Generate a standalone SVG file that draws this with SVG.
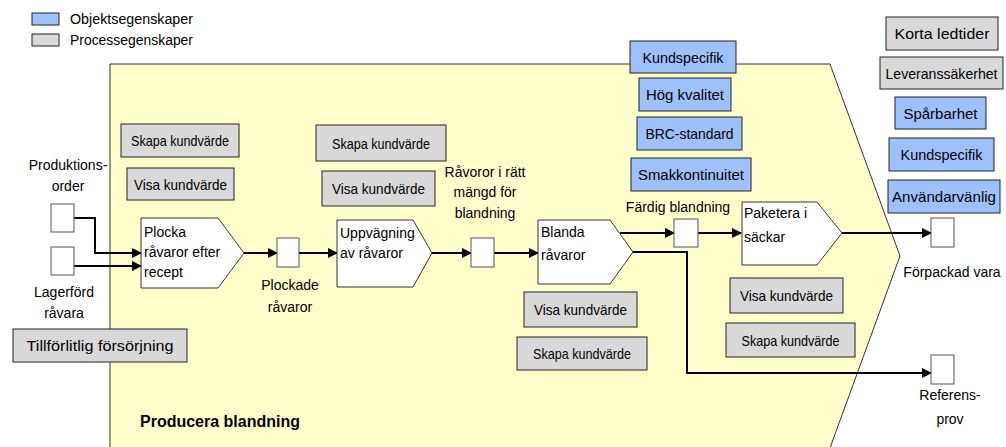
<svg xmlns="http://www.w3.org/2000/svg" width="1006" height="447" viewBox="0 0 1006 447">
  <style>
    .area { fill: #ffffcc; stroke: #333333; stroke-width: 1; }
    .proc { fill: #ffffff; stroke: #333333; stroke-width: 1; }
    .store { fill: #ffffff; stroke: #555555; stroke-width: 1; }
    .obj { fill: #9fc1fb; stroke: #222222; stroke-width: 1; }
    .prc { fill: #d9d9d9; stroke: #222222; stroke-width: 1; }
    .hand { font-family: "Liberation Sans", Arial, sans-serif; font-size: 15px; fill: #000000; text-anchor: middle; }
    .hand-l { font-family: "Liberation Sans", Arial, sans-serif; font-size: 14px; fill: #000000; }
    .lbl { font-family: "Liberation Sans", Arial, sans-serif; font-size: 14px; fill: #000000; text-anchor: middle; }
    .plbl { font-family: "Liberation Sans", Arial, sans-serif; font-size: 14px; fill: #000000; }
    .title { font-family: "Liberation Sans", Arial, sans-serif; font-size: 16px; font-weight: bold; fill: #000000; }
    .flow { fill: none; stroke: #000000; stroke-width: 2; }
  </style>
  <defs>
    <marker id="arrow" markerUnits="userSpaceOnUse" markerWidth="10" markerHeight="10" refX="9" refY="5" orient="auto">
      <path d="M0,0 L10,5 L0,10 Z" fill="#000000"/>
    </marker>
  </defs>

  <!-- legend -->
  <g id="legend">
    <rect class="obj" x="32" y="13" width="27" height="12"/>
    <text class="hand-l" x="70" y="24" textLength="123" lengthAdjust="spacingAndGlyphs">Objektsegenskaper</text>
    <rect class="prc" x="32" y="34" width="27" height="12"/>
    <text class="hand-l" x="70" y="45" textLength="123" lengthAdjust="spacingAndGlyphs">Processegenskaper</text>
  </g>

  <!-- process area -->
  <g id="area">
    <polygon class="area" points="110,64 830,64 900,256 830,448 110,448"/>
    <text class="title" x="140" y="427">Producera blandning</text>
  </g>

  <!-- connectors -->
  <g id="connectors">
    <polyline class="flow" points="74,218 95,218 95,253 141,253" marker-end="url(#arrow)"/>
    <polyline class="flow" points="74,266 141,266" marker-end="url(#arrow)"/>
    <polyline class="flow" points="244,253 277,253" marker-end="url(#arrow)"/>
    <polyline class="flow" points="299,253 337,253" marker-end="url(#arrow)"/>
    <polyline class="flow" points="432,253 471,253" marker-end="url(#arrow)"/>
    <polyline class="flow" points="494,253 538,253" marker-end="url(#arrow)"/>
    <polyline class="flow" points="620,233 674,233" marker-end="url(#arrow)"/>
    <polyline class="flow" points="698,233 741,233" marker-end="url(#arrow)"/>
    <polyline class="flow" points="633,252 687,252 687,373 931,373" marker-end="url(#arrow)"/>
    <polyline class="flow" points="842,233 931,233" marker-end="url(#arrow)"/>
  </g>

  <!-- inputs -->
  <g id="produktionsorder">
    <rect class="store" x="51" y="204" width="23" height="28"/>
    <text class="lbl" x="68" y="170">Produktions-</text>
    <text class="lbl" x="68" y="191">order</text>
  </g>
  <g id="lagerford-ravara">
    <rect class="store" x="51" y="247" width="23" height="28"/>
    <text class="lbl" x="64" y="297">Lagerförd</text>
    <text class="lbl" x="64" y="318">råvara</text>
  </g>
  <g id="tillforlitlig">
    <rect class="prc" x="13" y="329" width="174" height="33"/>
    <text class="hand" x="100" y="351" textLength="147" lengthAdjust="spacingAndGlyphs">Tillförlitlig försörjning</text>
  </g>

  <!-- step 1 -->
  <g id="plocka">
    <polygon class="proc" points="141,218 218,218 244,253 218,288 141,288"/>
    <text class="plbl" x="144" y="237">Plocka</text>
    <text class="plbl" x="144" y="257">råvaror efter</text>
    <text class="plbl" x="144" y="277">recept</text>
  </g>
  <g id="plocka-skapa">
    <rect class="prc" x="121" y="124" width="118" height="33"/>
    <text class="hand" x="180" y="146" textLength="98" lengthAdjust="spacingAndGlyphs">Skapa kundvärde</text>
  </g>
  <g id="plocka-visa">
    <rect class="prc" x="127" y="168" width="107" height="32"/>
    <text class="hand" x="180.5" y="190" textLength="93" lengthAdjust="spacingAndGlyphs">Visa kundvärde</text>
  </g>
  <g id="plockade-ravaror">
    <rect class="store" x="277" y="238" width="22" height="29"/>
    <text class="lbl" x="290" y="290">Plockade</text>
    <text class="lbl" x="290" y="312">råvaror</text>
  </g>

  <!-- step 2 -->
  <g id="uppvagning">
    <polygon class="proc" points="337,220 413,220 432,253 413,287 337,287"/>
    <text class="plbl" x="340" y="238">Uppvägning</text>
    <text class="plbl" x="340" y="258">av råvaror</text>
  </g>
  <g id="uppvagning-skapa">
    <rect class="prc" x="316" y="125" width="130" height="36"/>
    <text class="hand" x="381" y="149" textLength="98" lengthAdjust="spacingAndGlyphs">Skapa kundvärde</text>
  </g>
  <g id="uppvagning-visa">
    <rect class="prc" x="322" y="171" width="113" height="35"/>
    <text class="hand" x="378.5" y="194" textLength="93" lengthAdjust="spacingAndGlyphs">Visa kundvärde</text>
  </g>
  <g id="ravaror-ratt-mangd">
    <rect class="store" x="471" y="238" width="23" height="29"/>
    <text class="lbl" x="485" y="177">Råvoror i rätt</text>
    <text class="lbl" x="485" y="197">mängd för</text>
    <text class="lbl" x="485" y="218">blandning</text>
  </g>

  <!-- step 3 -->
  <g id="blanda">
    <polygon class="proc" points="538,220 610,220 633,252 610,284 538,284"/>
    <text class="plbl" x="541" y="237">Blanda</text>
    <text class="plbl" x="541" y="260">råvaror</text>
  </g>
  <g id="blanda-visa">
    <rect class="prc" x="524" y="292" width="113" height="35"/>
    <text class="hand" x="580.5" y="315" textLength="93" lengthAdjust="spacingAndGlyphs">Visa kundvärde</text>
  </g>
  <g id="blanda-skapa">
    <rect class="prc" x="517" y="337" width="130" height="33"/>
    <text class="hand" x="582" y="359" textLength="98" lengthAdjust="spacingAndGlyphs">Skapa kundvärde</text>
  </g>
  <g id="fardig-blandning">
    <rect class="store" x="674" y="219" width="24" height="28"/>
    <text class="lbl" x="678" y="212">Färdig blandning</text>
  </g>
  <g id="kundspecifik-1">
    <rect class="obj" x="630" y="41" width="106" height="32"/>
    <text class="hand" x="683" y="63" textLength="81" lengthAdjust="spacingAndGlyphs">Kundspecifik</text>
  </g>
  <g id="hog-kvalitet">
    <rect class="obj" x="639" y="78" width="92" height="33"/>
    <text class="hand" x="685" y="100" textLength="78" lengthAdjust="spacingAndGlyphs">Hög kvalitet</text>
  </g>
  <g id="brc-standard">
    <rect class="obj" x="637" y="117" width="105" height="33"/>
    <text class="hand" x="689.5" y="139" textLength="88" lengthAdjust="spacingAndGlyphs">BRC-standard</text>
  </g>
  <g id="smakkontinuitet">
    <rect class="obj" x="631" y="158" width="120" height="33"/>
    <text class="hand" x="691" y="180" textLength="106" lengthAdjust="spacingAndGlyphs">Smakkontinuitet</text>
  </g>

  <!-- step 4 -->
  <g id="paketera">
    <polygon class="proc" points="742,202 817,202 842,233 817,265 742,265"/>
    <text class="plbl" x="744" y="218">Paketera i</text>
    <text class="plbl" x="744" y="242">säckar</text>
  </g>
  <g id="paketera-visa">
    <rect class="prc" x="730" y="278" width="113" height="35"/>
    <text class="hand" x="786.5" y="301" textLength="93" lengthAdjust="spacingAndGlyphs">Visa kundvärde</text>
  </g>
  <g id="paketera-skapa">
    <rect class="prc" x="726" y="323" width="129" height="34"/>
    <text class="hand" x="790.5" y="346" textLength="98" lengthAdjust="spacingAndGlyphs">Skapa kundvärde</text>
  </g>

  <!-- outputs -->
  <g id="forpackad-vara">
    <rect class="store" x="931" y="218" width="23" height="29"/>
    <text class="lbl" x="952" y="277">Förpackad vara</text>
  </g>
  <g id="referensprov">
    <rect class="store" x="931" y="355" width="23" height="29"/>
    <text class="lbl" x="950" y="400">Referens-</text>
    <text class="lbl" x="950" y="424">prov</text>
  </g>
  <g id="korta-ledtider">
    <rect class="prc" x="886" y="17" width="112" height="33"/>
    <text class="hand" x="942" y="39" textLength="95" lengthAdjust="spacingAndGlyphs">Korta ledtider</text>
  </g>
  <g id="leveranssakerhet">
    <rect class="prc" x="880" y="57" width="123" height="32"/>
    <text class="hand" x="941.5" y="79" textLength="112" lengthAdjust="spacingAndGlyphs">Leveranssäkerhet</text>
  </g>
  <g id="sparbarhet">
    <rect class="obj" x="895" y="97" width="91" height="32"/>
    <text class="hand" x="940.5" y="119" textLength="74" lengthAdjust="spacingAndGlyphs">Spårbarhet</text>
  </g>
  <g id="kundspecifik-2">
    <rect class="obj" x="889" y="138" width="105" height="33"/>
    <text class="hand" x="941.5" y="160" textLength="82" lengthAdjust="spacingAndGlyphs">Kundspecifik</text>
  </g>
  <g id="anvandarvanlig">
    <rect class="obj" x="888" y="180" width="112" height="33"/>
    <text class="hand" x="944" y="202" textLength="104" lengthAdjust="spacingAndGlyphs">Användarvänlig</text>
  </g>
</svg>
